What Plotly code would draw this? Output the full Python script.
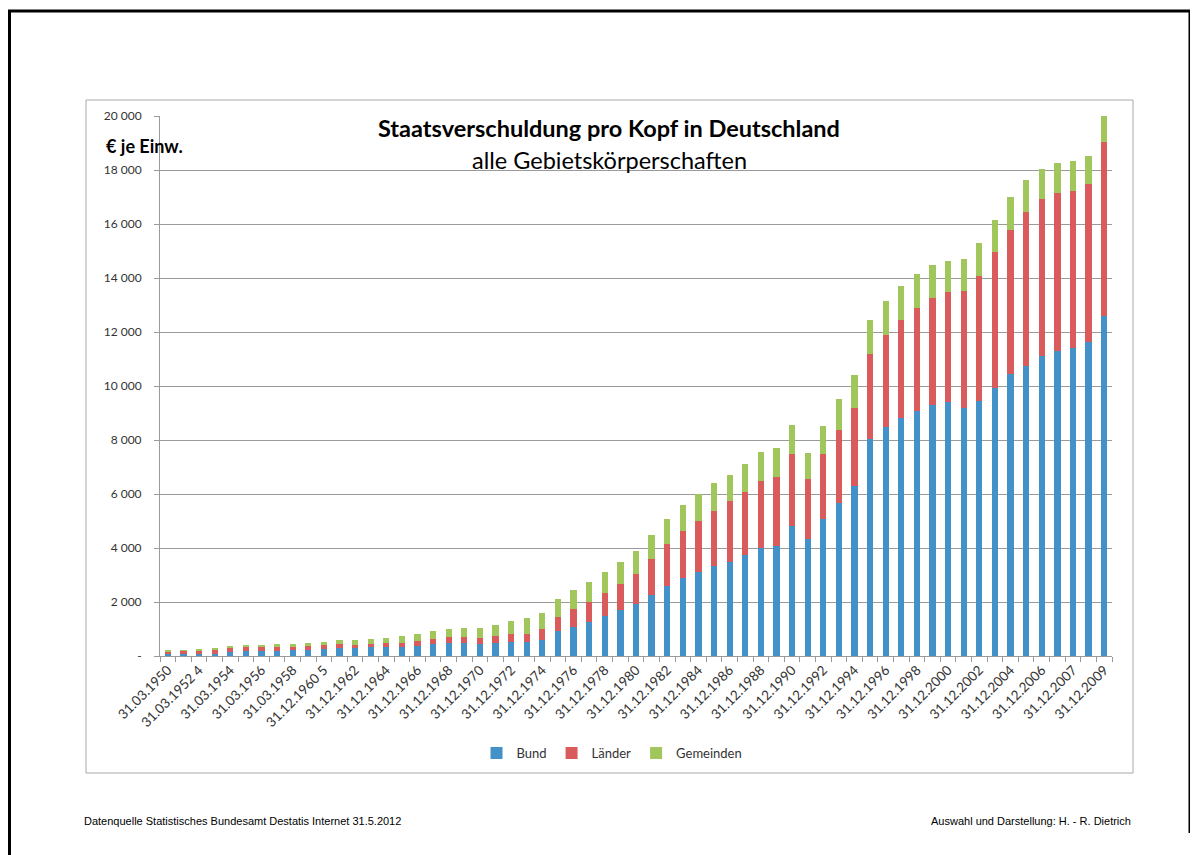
import plotly.graph_objects as go

# ---------------- data ----------------
categories = (
    ["31.03.1950", "31.03.1951", "31.03.1952 4", "31.03.1953", "31.03.1954",
     "31.03.1955", "31.03.1956", "31.03.1957", "31.03.1958", "31.03.1959",
     "31.12.1960 5"]
    + ["31.12.%d" % y for y in range(1961, 2007)]
    + ["31.12.2006 6", "31.12.2007", "31.12.2008", "31.12.2009"]
)

bund = [74, 86, 86, 86, 160, 198, 198, 198, 210, 235,
        272, 309, 296, 321, 333, 346, 383, 444, 469, 469,
        457, 469, 506, 531, 605, 926, 1062, 1272, 1494, 1716,
        1938, 2259, 2593, 2877, 3095, 3335, 3498, 3733, 4005, 4091,
        4833, 4339, 5056, 5661, 6292, 8035, 8467, 8825, 9061, 9312,
        9405, 9193, 9431, 9934, 10437, 10754, 11124, 11296, 11402, 11640,
        12606]
laender = [111, 112, 136, 173, 161, 160, 160, 160, 136, 148,
           136, 123, 124, 136, 136, 148, 160, 198, 235, 235,
           222, 272, 296, 296, 383, 531, 691, 728, 839, 951,
           1111, 1334, 1555, 1740, 1908, 2051, 2225, 2348, 2484, 2547,
           2645, 2225, 2435, 2720, 2905, 3164, 3412, 3635, 3836, 3929,
           4061, 4326, 4656, 5026, 5357, 5688, 5820, 5860, 5833, 5847,
           6415]
gemeinden = [15, 24, 13, 25, 25, 50, 62, 74, 99, 86,
             111, 148, 160, 161, 210, 259, 284, 296, 308, 321,
             346, 407, 494, 568, 592, 666, 704, 728, 766, 802,
             840, 901, 938, 976, 1000, 1014, 989, 1039, 1064, 1063,
             1063, 951, 1013, 1137, 1199, 1248, 1273, 1257, 1256, 1256,
             1177, 1190, 1191, 1178, 1203, 1177, 1098, 1098, 1085, 1032,
             979]

y_tick_values = [0, 2000, 4000, 6000, 8000, 10000, 12000, 14000, 16000, 18000, 20000]
y_tick_labels = ["-", "2 000", "4 000", "6 000", "8 000", "10 000", "12 000",
                 "14 000", "16 000", "18 000", "20 000"]

series_names = ["Bund", "Länder", "Gemeinden"]
series_colors = ["#4391C9", "#DA5B5B", "#A0C65C"]

# ---------------- layout geometry ----------------
OFF = 8                      # default page margin of the html body
W, H = 1198 - OFF, 855 - OFF
PL, PR, PT, PB = 160, 1112, 116, 656   # plot area in page pixels
pw, ph = PR - PL, PB - PT


def px(x):
    return (x - PL) / pw


def py(y):
    return (PB - y) / ph


FONT = "Lato, 'Open Sans', sans-serif"
FOOT_FONT = "'Liberation Sans Narrow', 'Liberation Sans', Arial"

fig = go.Figure()
for name, vals, col in zip(series_names, [bund, laender, gemeinden], series_colors):
    fig.add_trace(go.Bar(x=categories, y=vals, name=name,
                         marker=dict(color=col, line=dict(width=0))))

x_ticktext = [c if i % 2 == 0 else "" for i, c in enumerate(categories)]

fig.update_layout(
    width=W, height=H,
    barmode="stack", bargap=0.6,
    paper_bgcolor="white", plot_bgcolor="white",
    margin=dict(l=PL - OFF, r=(W + OFF) - PR, t=PT - OFF, b=(H + OFF) - PB, autoexpand=False),
    font=dict(family=FONT, color="#333333", size=12),
    showlegend=True,
    legend=dict(orientation="h", x=px(612), y=py(753), xanchor="center", yanchor="middle",
                traceorder="normal",
                font=dict(family=FONT, size=13, color="#333333"),
                itemwidth=30, tracegroupgap=0, bgcolor="rgba(0,0,0,0)"),
    xaxis=dict(
        type="category", tickmode="array", tickvals=categories, ticktext=x_ticktext,
        tickangle=-45, tickson="boundaries", ticks="outside", ticklen=5,
        tickcolor="#9a9a9a", showline=True, linecolor="#9a9a9a", linewidth=1,
        showgrid=False, tickfont=dict(family=FONT, size=13.5, color="#333333"),
        range=[-0.5, len(categories) - 0.5],
    ),
    yaxis=dict(
        range=[0, 20000], tickmode="array", tickvals=y_tick_values, ticktext=y_tick_labels,
        ticks="outside", ticklen=5, tickcolor="#9a9a9a",
        showline=True, linecolor="#9a9a9a", linewidth=1,
        showgrid=True, gridcolor="#9a9a9a", gridwidth=1, zeroline=False,
        tickfont=dict(family=FONT, size=12, color="#333333"),
        ticklabelstandoff=10,
    ),
)

# chart frame and page border
fig.add_shape(type="rect", xref="paper", yref="paper",
              x0=px(86), x1=px(1133), y0=py(773), y1=py(100),
              line=dict(color="#a8a8a8", width=1), fillcolor="rgba(0,0,0,0)", layer="below")
for (x0, y0, x1, y1) in [(8, 11, 1198, 11), (9.5, 10, 9.5, 860), (1190, 11, 1190, 833)]:
    fig.add_shape(type="line", xref="paper", yref="paper",
                  x0=px(x0), y0=py(y0), x1=px(x1), y1=py(y1),
                  line=dict(color="black", width=3))

# texts
fig.add_annotation(text="<b>Staatsverschuldung pro Kopf in Deutschland</b>",
                   xref="paper", yref="paper", x=px(609), y=py(128),
                   xanchor="center", yanchor="middle", showarrow=False,
                   font=dict(family=FONT, size=23.5, color="black"))
fig.add_annotation(text="alle Gebietskörperschaften",
                   xref="paper", yref="paper", x=px(609), y=py(160),
                   xanchor="center", yanchor="middle", showarrow=False,
                   font=dict(family=FONT, size=23.5, color="black"))
fig.add_annotation(text="<b>€ je Einw.</b>",
                   xref="paper", yref="paper", x=px(104), y=py(146),
                   xanchor="left", yanchor="middle", showarrow=False,
                   font=dict(family=FONT, size=18, color="black"))
fig.add_annotation(text="Datenquelle Statistisches Bundesamt Destatis Internet 31.5.2012",
                   xref="paper", yref="paper", x=px(82), y=py(821),
                   xanchor="left", yanchor="middle", showarrow=False,
                   font=dict(family=FOOT_FONT, size=11, color="black"))
fig.add_annotation(text="Auswahl und Darstellung: H. - R. Dietrich",
                   xref="paper", yref="paper", x=px(1133), y=py(821),
                   xanchor="right", yanchor="middle", showarrow=False,
                   font=dict(family=FOOT_FONT, size=11, color="black"))

fig.write_html("out.html")
